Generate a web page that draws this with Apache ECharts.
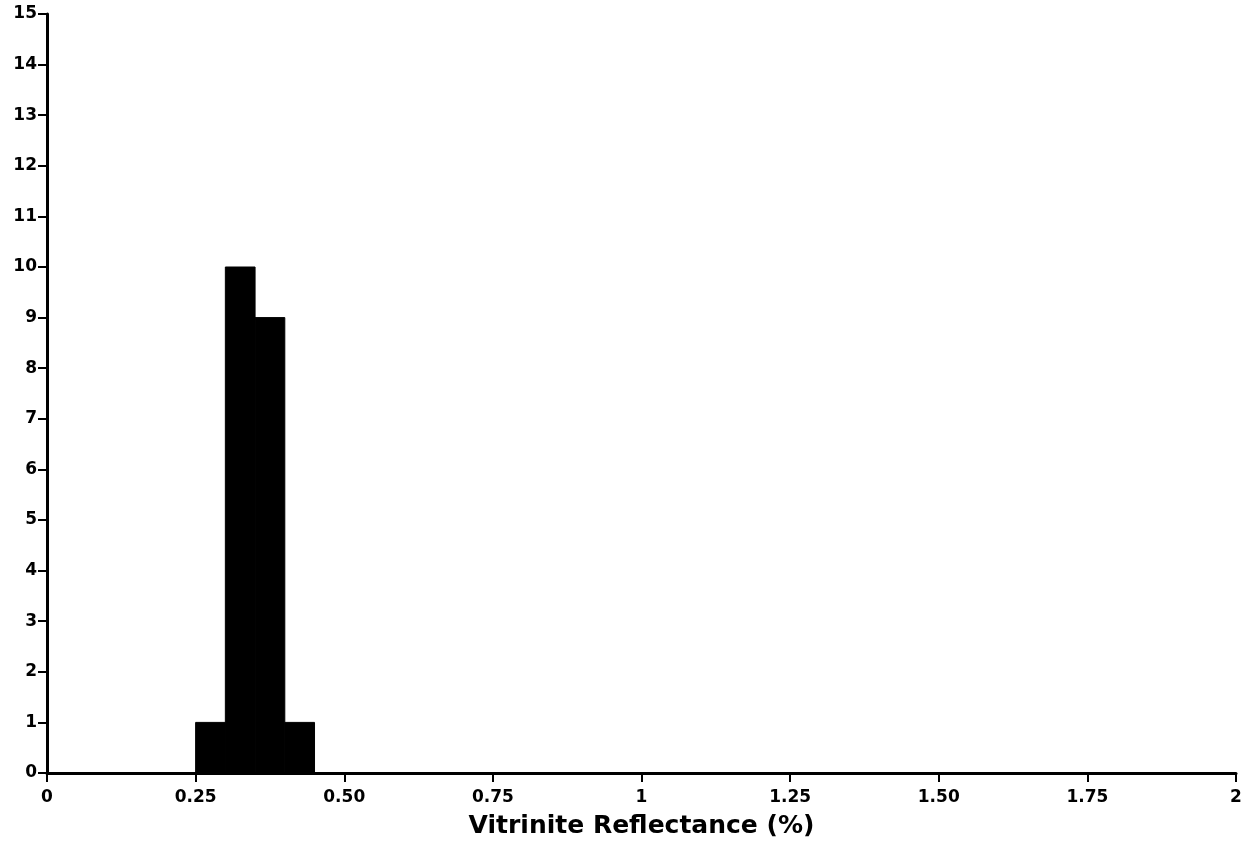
<!DOCTYPE html>
<html><head><meta charset="utf-8">
<script src="https://cdn.jsdelivr.net/npm/echarts@6/dist/echarts.min.js"></script>
<style>html,body{margin:0;padding:0;background:#fff}#c{width:1241px;height:850px}</style>
</head><body><div id="c"></div>
<script>
const binStart = [0.25, 0.30, 0.35, 0.40];
const binEnd   = [0.30, 0.35, 0.40, 0.45];
const counts   = [1, 10, 9, 1];
const xTickLabels = {"0":"0","0.25":"0.25","0.5":"0.50","0.75":"0.75","1":"1","1.25":"1.25","1.5":"1.50","1.75":"1.75","2":"2"};
const xTitle = "Vitrinite Reflectance (%)";

const data = binStart.map((s, i) => [s, binEnd[i], counts[i]]);
const chart = echarts.init(document.getElementById('c'));
const F = 'DejaVu Sans';
chart.setOption({
  animation: false,
  grid: {left: 47, right: 5, top: 14, bottom: 77, containLabel: false, outerBoundsMode: 'none'},
  xAxis: {
    type: 'value', min: 0, max: 2, interval: 0.25,
    axisLine: {lineStyle: {color: '#000', width: 3}},
    axisTick: {show: true, inside: false, length: 9, lineStyle: {color: '#000', width: 2}},
    splitLine: {show: false},
    axisLabel: {color: '#000', fontFamily: F, fontWeight: 'bold', fontSize: 17, margin: 16,
      formatter: v => xTickLabels[String(v)] ?? String(v)},
    name: xTitle, nameLocation: 'middle', nameGap: 41,
    nameTextStyle: {color: '#000', fontFamily: F, fontWeight: 'bold', fontSize: 25}
  },
  yAxis: {
    type: 'value', min: 0, max: 15, interval: 1,
    axisLine: {show: true, lineStyle: {color: '#000', width: 3}},
    axisTick: {show: true, inside: false, length: 9, lineStyle: {color: '#000', width: 2}},
    splitLine: {show: false},
    axisLabel: {color: '#000', fontFamily: F, fontWeight: 'bold', fontSize: 17, margin: 10}
  },
  series: [{
    type: 'custom',
    data: data,
    encode: {x: [0, 1], y: 2},
    renderItem: function (params, api) {
      const p0 = api.coord([api.value(0), 0]);
      const p1 = api.coord([api.value(1), api.value(2)]);
      return {
        type: 'rect',
        shape: {x: p0[0], y: p1[1], width: p1[0] - p0[0], height: p0[1] - p1[1]},
        style: {fill: '#000', stroke: '#000', lineWidth: 1}
      };
    }
  }]
});
</script></body></html>
